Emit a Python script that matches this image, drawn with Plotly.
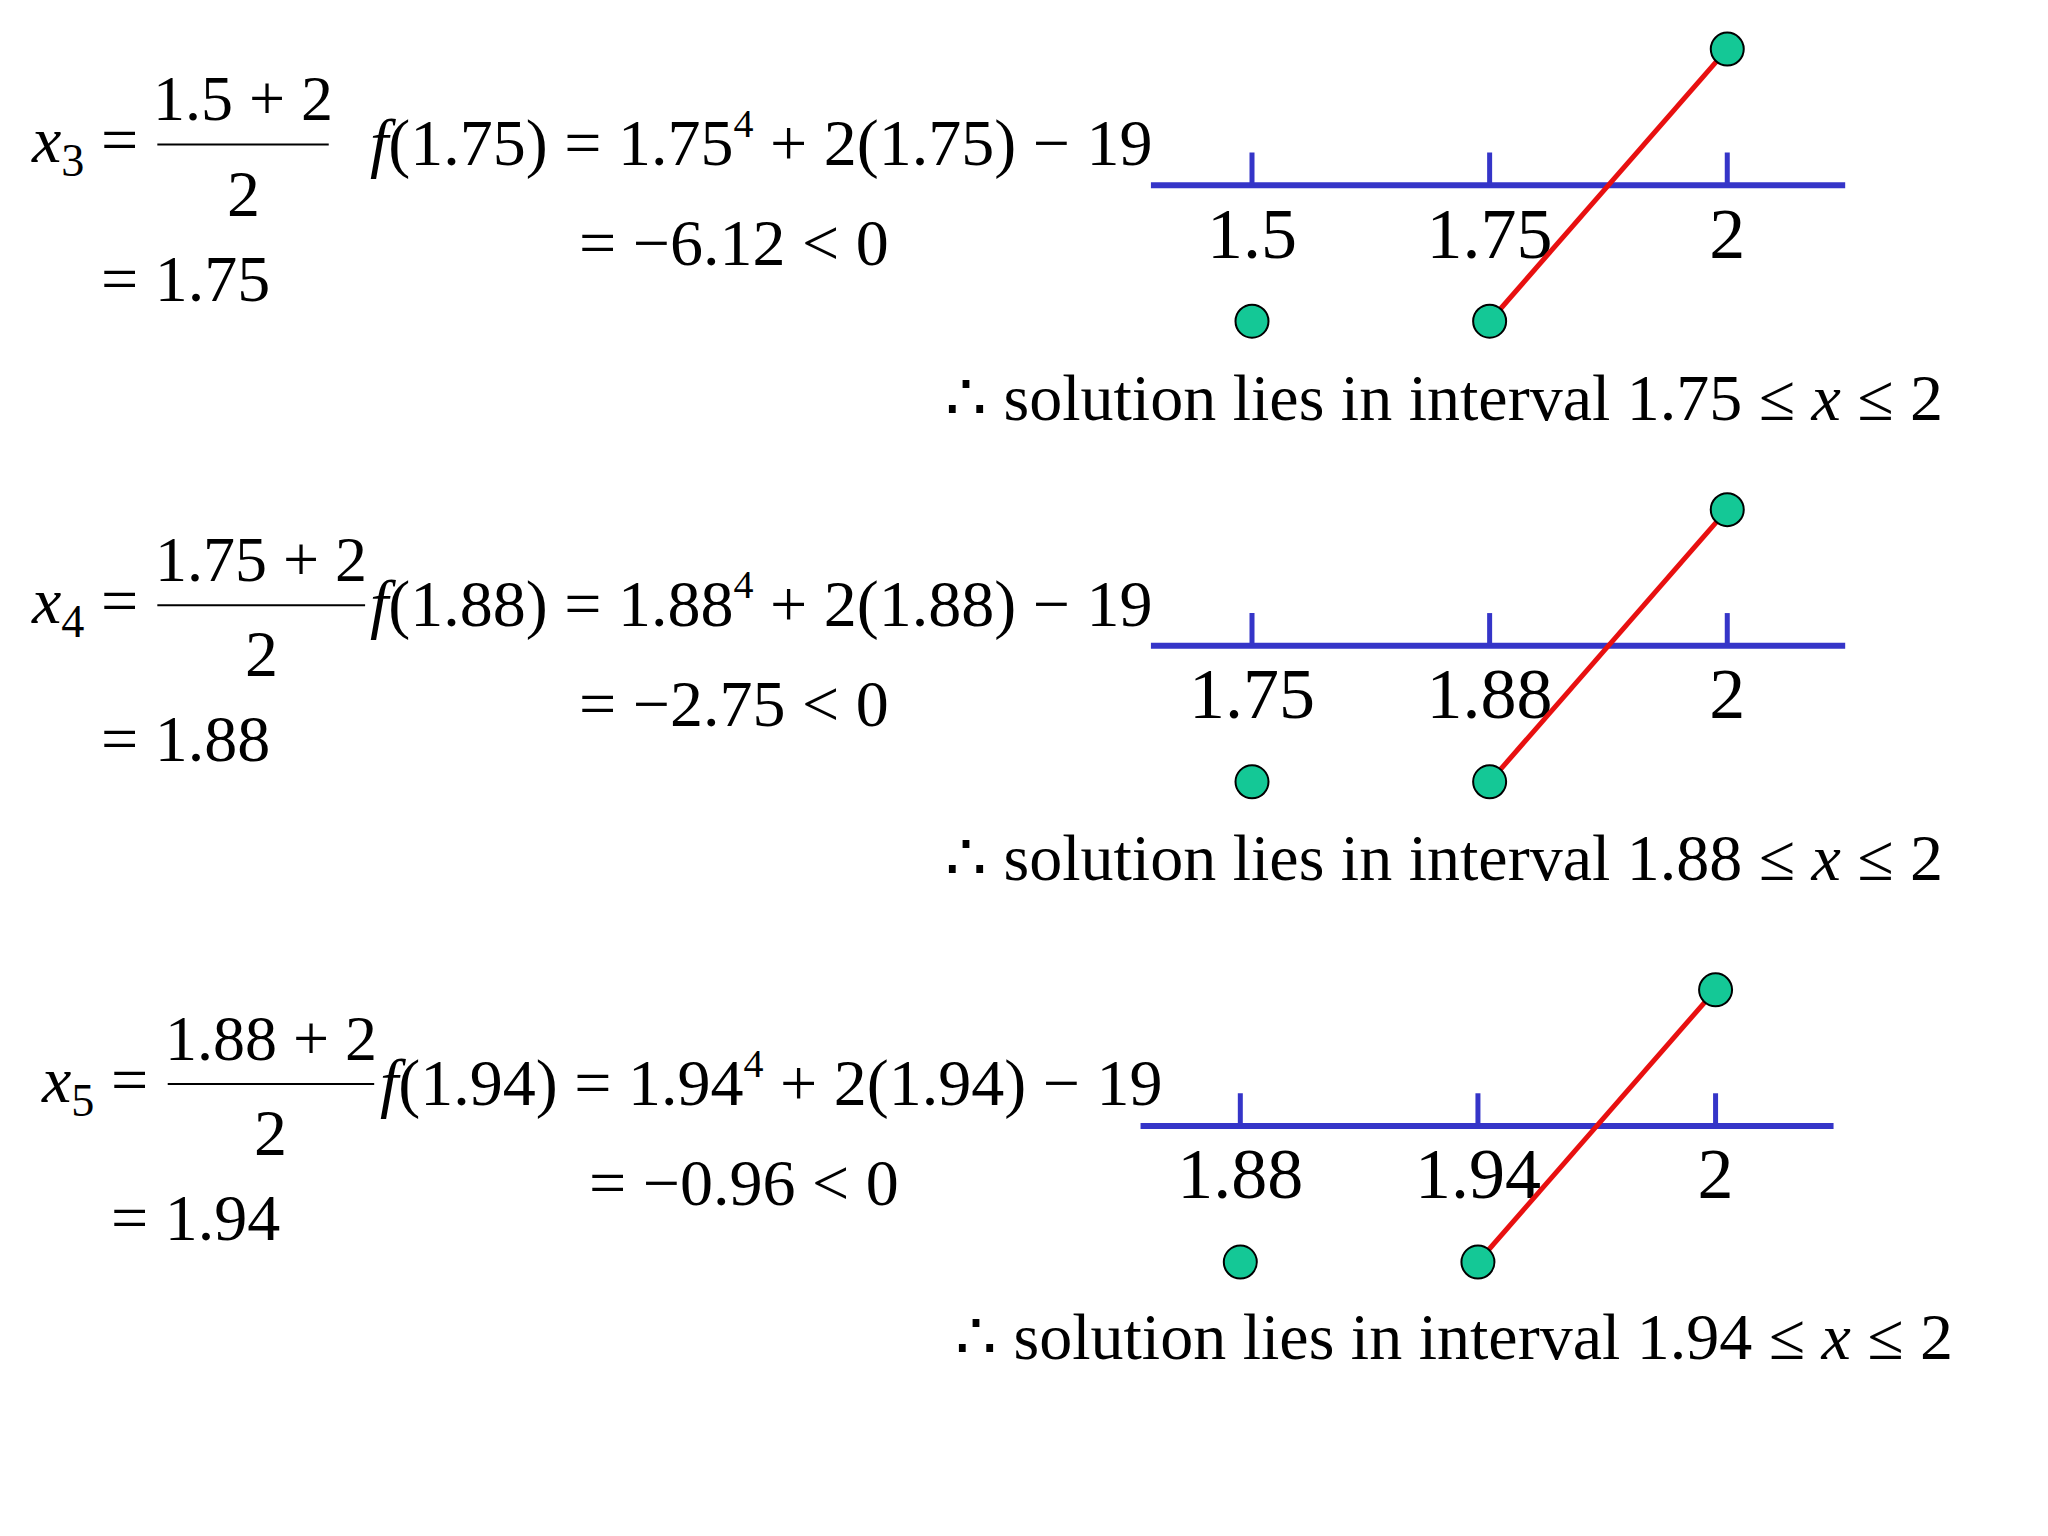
import plotly.graph_objects as go

# bisection steps shown on the slide
steps = ["3", "4", "5"]
numerators = ["1.5 + 2", "1.75 + 2", "1.88 + 2"]
midpoints = ["1.75", "1.88", "1.94"]
f_values = ["−6.12", "−2.75", "−0.96"]
interval_labels = [["1.5", "1.75", "2"], ["1.75", "1.88", "2"], ["1.88", "1.94", "2"]]
# sign of f at each labelled point: -1 below the line, +1 above
signs = [-1, -1, 1]
tick_pos = [0, 1, 2]

W, H = 2048, 1536
FONT = "Liberation Serif"


def px(x):
    return (x / 1.011) / 1560


def py(y):
    return 1 - ((y - 5.6) / 1.012) / 1160


fig = go.Figure()
layout = dict(width=W, height=H, paper_bgcolor="white", plot_bgcolor="white",
              margin=dict(l=0, r=0, t=0, b=0), showlegend=False)
annotations = []
shapes = []

# per-panel placement in reference pixels
panels = [
    dict(dy=0, dx=0, line_y=141, x0=880, x1=1415, tick0=958, num_w=(115, 247)),
    dict(dy=352, dx=0, line_y=493, x0=880, x1=1415, tick0=958, num_w=(115, 275)),
    dict(dy=718, dx=8, line_y=860, x0=872, x1=1406, tick0=949, num_w=(123, 282)),
]
STEP = 183.0  # px between ticks
UNIT = 104.0  # px per y unit

for i, p in enumerate(panels):
    ax = "" if i == 0 else str(i + 1)
    top_pix, bot_pix = p["line_y"] - 125, p["line_y"] + 125
    layout["xaxis" + ax] = dict(domain=[px(p["x0"]), px(p["x1"])],
                                range=[(p["x0"] - p["tick0"]) / STEP, (p["x1"] - p["tick0"]) / STEP],
                                visible=False, anchor="y" + ax)
    layout["yaxis" + ax] = dict(domain=[py(bot_pix), py(top_pix)],
                                range=[-125 / UNIT, 125 / UNIT], visible=False, anchor="x" + ax)
    xa, ya = "x" + ax, "y" + ax
    fig.add_trace(go.Scatter(x=layout["xaxis" + ax]["range"], y=[0, 0], mode="lines",
                             line=dict(color="#3535c8", width=6), xaxis=xa, yaxis=ya))
    for t in tick_pos:
        fig.add_trace(go.Scatter(x=[t, t], y=[0, 0.24], mode="lines",
                                 line=dict(color="#3535c8", width=5), xaxis=xa, yaxis=ya))
    fig.add_trace(go.Scatter(x=tick_pos, y=[-0.4] * 3, mode="text", text=interval_labels[i],
                             textfont=dict(family=FONT, size=72, color="black"),
                             xaxis=xa, yaxis=ya))
    fig.add_trace(go.Scatter(x=[tick_pos[1], tick_pos[2]], y=[signs[1], signs[2]], mode="lines",
                             line=dict(color="#e81010", width=5), xaxis=xa, yaxis=ya))
    fig.add_trace(go.Scatter(x=tick_pos, y=signs, mode="markers",
                             marker=dict(color="#14c896", size=33, line=dict(color="black", width=2)),
                             xaxis=xa, yaxis=ya))

    dy, dx = p["dy"], p["dx"]

    def ann(text, x, y, size=66, xanchor="left"):
        annotations.append(dict(text=text, x=px(x + dx), y=py(y + dy), xref="paper", yref="paper",
                                xanchor=xanchor, yanchor="middle", showarrow=False,
                                font=dict(family=FONT, size=size, color="black")))

    ann(f"<i>x</i><sub>{steps[i]}</sub> =", 16, 110)
    n0, n1 = p["num_w"]
    ann(numerators[i], (n0 + n1) / 2 - dx, 75, size=64, xanchor="center")
    ann("2", (n0 + n1) / 2 - dx, 147, xanchor="center")
    shapes.append(dict(type="line", xref="paper", yref="paper", x0=px(n0), x1=px(n1),
                       y0=py(110 + dy), y1=py(110 + dy), line=dict(color="black", width=2)))
    ann(f"= {midpoints[i]}", 70, 212)
    ann(f"<i>f</i>({midpoints[i]}) = {midpoints[i]}<sup><span style='font-size:40px'>4</span></sup>"
        f" + 2({midpoints[i]}) − 19", 277, 107)
    ann(f"= {f_values[i]} &lt; 0", 438, 185)
    ann(f"∴ solution lies in interval {midpoints[i]} ≤ <i>x</i> ≤ 2", 720, 303)

layout["annotations"] = annotations
layout["shapes"] = shapes
fig.update_layout(**layout)
fig.write_html("out.html")
